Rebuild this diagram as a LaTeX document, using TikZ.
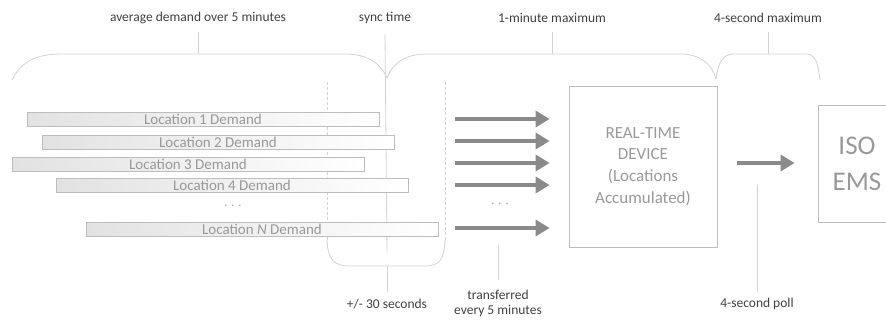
\documentclass[tikz,border=0pt]{standalone}
\usepackage{fontspec}
\setmainfont{Carlito}
\usetikzlibrary{arrows.meta}
\definecolor{linegray}{HTML}{D2D2D2}
\definecolor{boxgray}{HTML}{BDBDBD}
\definecolor{fillgray}{HTML}{E2E2E2}
\definecolor{textgray}{HTML}{999999}
\definecolor{labelgray}{HTML}{404040}
\definecolor{arrowgray}{HTML}{8A8A8A}
\tikzset{
  lbl/.style={text=labelgray, font=\fontsize{13.5}{15}\selectfont, inner sep=1pt},
  bar/.style={draw=boxgray, left color=fillgray, right color=white, minimum width=352pt,
    minimum height=14pt, inner sep=0pt, text=textgray, font=\fontsize{15}{15}\selectfont},
  brace/.style={draw=linegray, line width=0.8pt},
  flow/.style={draw=arrowgray, line width=4.5pt, -{Triangle[length=14pt,width=16pt]}},
  unit/.style={draw=boxgray, line width=0.8pt, text=textgray, align=center},
  dots/.style={text=textgray, font=\fontsize{12}{12}\selectfont}
}
\begin{document}
\begin{tikzpicture}[x=1pt,y=-1pt]
\useasboundingbox (0,0) rectangle (886,322);
% Etiquetas superiores
\node[lbl] (avg) at (198,18) {average demand over 5 minutes};
\node[lbl] (sync) at (385,18) {sync time};
\node[lbl] (onemin) at (552,18) {1-minute maximum};
\node[lbl] (foursec) at (768,18) {4-second maximum};
% Llaves superiores
\draw[brace] (12,80) .. controls (22,60) and (38,54) .. (62,54) -- (345,54)
  .. controls (366,54) and (380,62) .. (387,78);
\draw[brace] (387,78) .. controls (394,62) and (405,54) .. (428,54) -- (680,54)
  .. controls (700,54) and (712,64) .. (716,79);
\draw[brace] (716,79) .. controls (718,64) and (722,54) .. (734,54) -- (806,54)
  .. controls (816,54) and (818,64) .. (820,80);
\draw[brace] (avg.south |- 0,32) -- (avg.south |- 0,54);
\draw[brace] (onemin.south |- 0,32) -- (onemin.south |- 0,54);
\draw[brace] (foursec.south |- 0,32) -- (foursec.south |- 0,54);
\draw[brace] (sync.south |- 0,34) -- (387,252);
% Ventana de sincronizacion
\draw[linegray, line width=0.7pt, dash pattern=on 3pt off 2pt] (327,82) -- (327,240);
\draw[linegray, line width=0.7pt, dash pattern=on 3pt off 2pt] (445,82) -- (445,240);
\draw[brace] (327,240) .. controls (328,260) and (334,266) .. (350,266) -- (424,266)
  .. controls (440,266) and (444,260) .. (445,240);
% Demanda por ubicacion
\node[bar] (loc1) at (203,119) {Location 1 Demand};
\node[bar] (loc2) at (218,142) {Location 2 Demand};
\node[bar] (loc3) at (188,164) {Location 3 Demand};
\node[bar] (loc4) at (232,185) {Location 4 Demand};
\node[dots] (locdots) at (233,206) {.\hspace{4pt}.\hspace{4pt}.};
\node[bar] (locN) at (262,229) {Location \textit{N} Demand};
% Dispositivo y EMS
\node[unit, minimum width=148pt, minimum height=161pt, font=\fontsize{17}{21.7}\selectfont]
  (dev) at (643,166.5) {REAL-TIME\\DEVICE\\(Locations\\Accumulated)};
\node[unit, minimum width=78pt, minimum height=117pt, font=\fontsize{27}{36}\selectfont]
  (iso) at (857,163.5) {ISO\\EMS};
% Transferencias
\coordinate (a1) at (455,119);
\coordinate (a2) at (455,141);
\coordinate (a3) at (455,163);
\coordinate (a4) at (455,185);
\coordinate (a5) at (455,228);
\draw[flow, shorten >=19pt] (a1) -- (a1 -| dev.west);
\draw[flow, shorten >=19pt] (a2) -- (a2 -| dev.west);
\draw[flow, shorten >=19pt] (a3) -- (a3 -| dev.west);
\draw[flow, shorten >=19pt] (a4) -- (a4 -| dev.west);
\draw[flow, shorten >=19pt] (a5) -- (a5 -| dev.west);
\node[dots] (flowdots) at (500,204) {.\hspace{4pt}.\hspace{4pt}.};
\draw[flow, shorten <=20pt, shorten >=23pt] (dev.east |- 0,163) -- (iso.west |- 0,163);
% Etiquetas inferiores
\node[lbl] (plusminus) at (387,304) {+/- 30 seconds};
\node[lbl, align=center] (transfer) at (498,303) {transferred\\every 5 minutes};
\node[lbl] (poll) at (757,304) {4-second poll};
\draw[brace] (387,266) -- (387,292);
\draw[brace] (498,245) -- (498,280);
\draw[brace] (757,185) -- (757,292);
\end{tikzpicture}
\end{document}
